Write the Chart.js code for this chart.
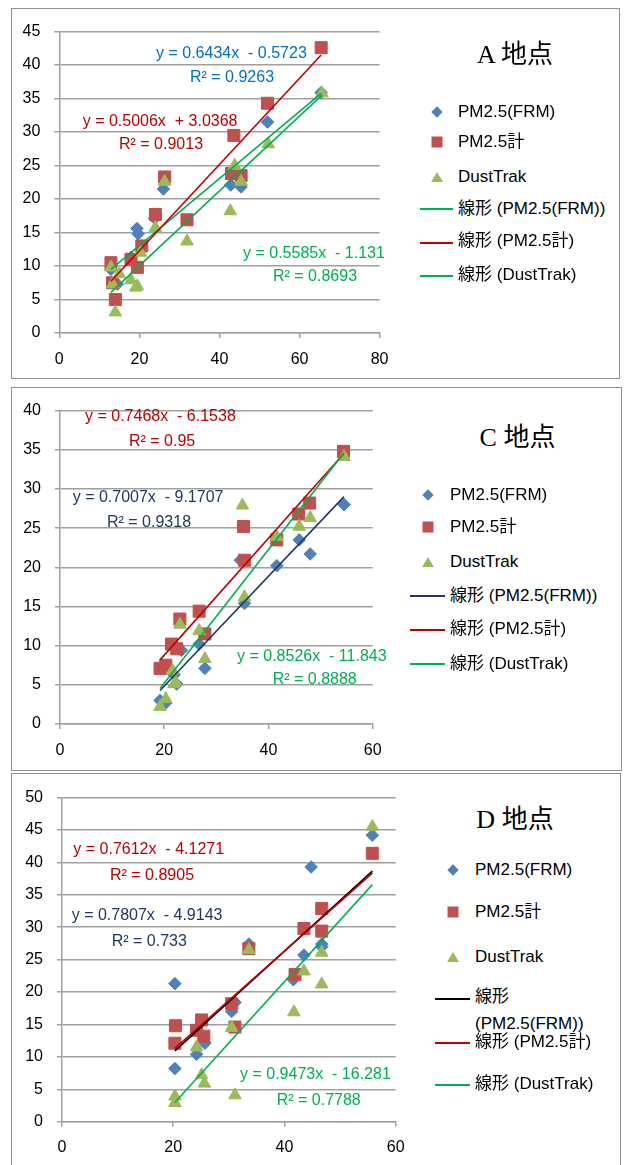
<!DOCTYPE html>
<html>
<head>
<meta charset="utf-8">
<script src="https://cdn.jsdelivr.net/npm/chart.js@4.4.1/dist/chart.umd.min.js"></script>
<style>
  body {
    margin: 0;
    width: 624px;
    height: 1165px;
    position: relative;
    overflow: hidden;
    background: #fff;
    font-family: "Liberation Sans", "Noto Sans CJK JP", sans-serif;
  }
  .panel { position: absolute; border: 1px solid #8f8f8f; box-sizing: border-box; }
  canvas { position: absolute; left: 0; }
  .t { position: absolute; white-space: pre; line-height: 1.2; transform: translateY(-50%); }
  .eq { font-size: 16px; }
  .lg { font-size: 17px; color: #000; }
  .title { font-family: "Liberation Serif", "Noto Sans CJK JP", serif; font-size: 26px; transform: translate(-50%, -50%); }
  .sym { position: absolute; transform: translate(-50%, -50%); }
  .lgline { position: absolute; height: 2px; }
</style>
</head>
<body>
<div class="panel" style="left:11px;top:8px;width:609px;height:371px"></div>
<div class="panel" style="left:11px;top:387px;width:611px;height:384px"></div>
<div class="panel" style="left:11px;top:773px;width:610px;height:400px"></div>
<canvas id="chartA" width="400" height="370" style="top:8px"></canvas>
<canvas id="chartC" width="400" height="384" style="top:387px"></canvas>
<canvas id="chartD" width="420" height="391" style="top:774px"></canvas>
<div id="labels"></div>
<script>
const seriesNames = ["PM2.5(FRM)", "PM2.5計", "DustTrak"];

// A 地点
const aFrmX = [12.9, 14.5, 17.9, 19.4, 19.7, 23.8, 26.0, 42.8, 45.4, 52.0, 65.4];
const aFrmY = [9.5, 7.3, 11.3, 15.6, 14.8, 17.1, 21.5, 22.1, 21.8, 31.5, 35.9];
const aPmX = [12.9, 13.3, 14.0, 17.9, 19.5, 20.6, 24.0, 26.3, 31.9, 43.0, 43.6, 45.4, 52.0, 65.4];
const aPmY = [10.5, 7.5, 5.0, 11.0, 9.8, 13.0, 17.7, 23.3, 16.9, 23.8, 29.5, 23.5, 34.3, 42.6];
const aDustX = [12.9, 13.3, 14.0, 15.0, 17.9, 19.1, 19.5, 20.3, 24.0, 26.3, 31.9, 42.7, 43.8, 45.4, 52.2, 65.6];
const aDustY = [9.8, 7.3, 3.1, 8.8, 7.9, 6.8, 7.0, 12.0, 15.7, 22.6, 13.7, 18.2, 25.0, 22.6, 28.2, 35.8];
const aSlope = [0.5006, 0.6434, 0.5585];
const aIntercept = [3.0368, -0.5723, -1.131];
const aR2 = [0.9013, 0.9263, 0.8693];

// C 地点
const cFrmX = [19.2, 20.3, 21.9, 22.4, 23.3, 26.7, 27.8, 34.6, 35.4, 41.6, 45.9, 48.0, 54.5];
const cFrmY = [3.0, 2.7, 6.3, 5.1, 9.4, 10.2, 7.1, 20.9, 15.4, 20.2, 23.5, 21.7, 28.0];
const cPmX = [19.2, 20.3, 21.4, 22.4, 23.0, 26.7, 27.8, 35.2, 35.4, 41.6, 45.8, 47.9, 54.4];
const cPmY = [7.1, 7.5, 10.2, 9.6, 13.4, 14.4, 11.5, 25.2, 20.9, 23.5, 26.8, 28.2, 34.8];
const cDustX = [19.2, 20.3, 21.6, 21.9, 22.2, 23.0, 26.7, 27.8, 35.0, 35.4, 41.6, 45.9, 48.0, 54.5];
const cDustY = [2.2, 3.2, 6.8, 5.1, 5.3, 12.7, 11.9, 8.3, 27.9, 16.2, 23.9, 25.2, 26.3, 34.1];
const cSlope = [0.7007, 0.7468, 0.8526];
const cIntercept = [-9.1707, -6.1538, -11.843];
const cR2 = [0.9318, 0.95, 0.8888];

// D 地点
const dFrmX = [20.3, 20.3, 24.2, 25.7, 30.5, 31.1, 33.6, 41.6, 43.5, 44.8, 46.7, 46.7, 55.8];
const dFrmY = [21.3, 8.2, 10.4, 12.1, 17.0, 18.4, 27.4, 21.9, 25.7, 39.3, 27.4, 27.0, 44.2];
const dPmX = [20.3, 20.4, 24.2, 25.1, 25.5, 30.5, 31.1, 33.6, 41.9, 43.5, 46.7, 46.7, 55.8];
const dPmY = [12.1, 14.8, 14.1, 15.7, 13.2, 18.2, 14.6, 26.7, 22.7, 29.8, 29.4, 32.9, 41.4];
const dDustX = [20.3, 20.3, 24.2, 25.1, 25.6, 30.5, 31.1, 33.6, 41.7, 43.5, 46.7, 46.7, 55.8];
const dDustY = [2.9, 3.9, 11.5, 7.2, 5.9, 14.5, 4.1, 26.5, 16.9, 23.2, 21.2, 26.1, 45.5];
const dSlope = [0.7807, 0.7612, 0.9473];
const dIntercept = [-4.9143, -4.1271, -16.281];
const dR2 = [0.733, 0.8905, 0.7788];

const markerColors = ["#4F81BD", "#C0504D", "#9BBB59"];
const markerStyles = ["rectRot", "rect", "triangle"];
const markerRadius = [6.3, 8.5, 7.3];
const gridColor = "#a0a0a0";
const tickFont = { family: "Liberation Sans", size: 16 };

const panels = [
  {
    id: "chartA", title: "A 地点", canvasTop: 8,
    area: { left: 59.3, right: 383.3, top: 28, bottom: 333 }, xMax: 80, yMax: 45,
    xs: [aFrmX, aPmX, aDustX], ys: [aFrmY, aPmY, aDustY],
    slope: aSlope, intercept: aIntercept, r2: aR2,
    lineColors: ["#00B050", "#C00000", "#00B050"],
    eqColors: ["#C00000", "#0070C0", "#00B050"],
    eqPos: [[82.7, 120.5, 119, 144], [156, 52.5, 190, 77.3], [243, 252.5, 273, 276]],
    titlePos: [515, 55],
    legend: { sym: 437.3, line: [420, 453.3], text: 458, ys: [111.5, 142, 177, 208.5, 241, 274.5], lineYs: [209.3, 242.7, 276] },
  },
  {
    id: "chartC", title: "C 地点", canvasTop: 387,
    area: { left: 60, right: 372.7, top: 407.7, bottom: 724 }, xMax: 60, yMax: 40,
    xs: [cFrmX, cPmX, cDustX], ys: [cFrmY, cPmY, cDustY],
    slope: cSlope, intercept: cIntercept, r2: cR2,
    lineColors: ["#1F3864", "#C00000", "#00B050"],
    eqColors: ["#1F3864", "#C00000", "#00B050"],
    eqPos: [[72.7, 497, 107, 521.7], [85, 416, 129, 441], [237, 655.5, 272.7, 679]],
    titlePos: [517.5, 438.3],
    legend: { sym: 428.3, line: [410, 445], text: 450, ys: [495, 527, 562, 595.7, 629.3, 664], lineYs: [595.7, 630, 664.3] },
  },
  {
    id: "chartD", title: "D 地点", canvasTop: 774,
    area: { left: 62, right: 395.7, top: 796, bottom: 1121.7 }, xMax: 60, yMax: 50,
    xs: [dFrmX, dPmX, dDustX], ys: [dFrmY, dPmY, dDustY],
    slope: dSlope, intercept: dIntercept, r2: dR2,
    lineColors: ["#000000", "#C00000", "#00B050"],
    eqColors: ["#1F3864", "#C00000", "#00B050"],
    eqPos: [[71.7, 914.5, 111.7, 940.7], [73.3, 848.5, 110, 875], [240, 1073.5, 276.7, 1100]],
    titlePos: [515, 820],
    legend: { sym: 452.7, line: [435, 470], text: 475, ys: [870, 912, 956.7, 997.3, 1042.3, 1083.7], lineYs: [998.7, 1042.7, 1085], wrapFirst: 1024 },
  },
];

function points(xs, ys) {
  return xs.map((x, i) => ({ x: x, y: ys[i] }));
}

function trendLine(xs, a, b) {
  const lo = Math.min(...xs);
  const hi = Math.max(...xs);
  return [{ x: lo, y: a * lo + b }, { x: hi, y: a * hi + b }];
}

function equation(a, b) {
  return "y = " + a + "x  " + (b < 0 ? "-" : "+") + " " + Math.abs(b);
}

function drawPanel(p) {
  const canvas = document.getElementById(p.id);
  const h = canvas.height;
  const w = canvas.width;
  const datasets = [];

  // trend lines on top of markers
  for (let i = 0; i < 3; i++) {
    datasets.push({
      label: "線形 (" + seriesNames[i] + ")",
      data: trendLine(p.xs[i], p.slope[i], p.intercept[i]),
      showLine: true,
      pointRadius: 0,
      borderColor: p.lineColors[i],
      borderWidth: 1.6,
      order: 3 - i,
    });
  }
  for (let i = 0; i < 3; i++) {
    datasets.push({
      label: seriesNames[i],
      data: points(p.xs[i], p.ys[i]),
      pointStyle: markerStyles[i],
      pointRadius: markerRadius[i],
      backgroundColor: markerColors[i],
      borderColor: markerColors[i],
      borderWidth: 1,
      order: 6 - i,
    });
  }

  new Chart(canvas, {
    type: "scatter",
    data: { datasets: datasets },
    options: {
      responsive: false,
      animation: false,
      devicePixelRatio: 1,
      layout: { padding: { left: 0, right: w - p.area.right, top: p.area.top - p.canvasTop, bottom: 0 } },
      plugins: { legend: { display: false }, tooltip: { enabled: false } },
      scales: {
        x: {
          type: "linear", min: 0, max: p.xMax,
          ticks: { stepSize: 20, padding: 11.5, font: tickFont, color: "#000" },
          grid: { drawOnChartArea: false, tickLength: 5, color: gridColor, lineWidth: 1.5 },
          border: { color: gridColor, width: 1.5 },
          afterFit: (s) => { s.height = h - (p.area.bottom - p.canvasTop); },
        },
        y: {
          type: "linear", min: 0, max: p.yMax,
          ticks: { stepSize: 5, padding: 14, font: tickFont, color: "#000" },
          grid: { tickLength: 5, color: gridColor, lineWidth: 1.5 },
          border: { color: gridColor, width: 1.5 },
          afterFit: (s) => { s.width = p.area.left; },
        },
      },
    },
  });
}

function addText(cls, text, left, y, color) {
  const el = document.createElement("div");
  el.className = "t " + cls;
  el.textContent = text;
  el.style.left = left + "px";
  el.style.top = y + "px";
  if (color) el.style.color = color;
  document.getElementById("labels").appendChild(el);
  return el;
}

function addSym(html, x, y) {
  const el = document.createElement("div");
  el.className = "sym";
  el.style.left = x + "px";
  el.style.top = y + "px";
  el.innerHTML = html;
  document.getElementById("labels").appendChild(el);
}

function drawLabels(p) {
  for (let i = 0; i < 3; i++) {
    const e = p.eqPos[i];
    addText("eq", equation(p.slope[i], p.intercept[i]), e[0], e[1], p.eqColors[i]);
    addText("eq", "R² = " + p.r2[i], e[2], e[3], p.eqColors[i]);
  }
  addText("title", p.title, p.titlePos[0], p.titlePos[1]);

  const L = p.legend;
  addSym('<div style="width:8px;height:8px;background:' + markerColors[0] + ';transform:rotate(45deg)"></div>', L.sym, L.ys[0]);
  addSym('<div style="width:11px;height:11px;background:' + markerColors[1] + '"></div>', L.sym, L.ys[1]);
  addSym('<div style="width:0;height:0;border-left:6px solid transparent;border-right:6px solid transparent;border-bottom:10px solid ' + markerColors[2] + '"></div>', L.sym, L.ys[2]);
  for (let i = 0; i < 3; i++) {
    addText("lg", seriesNames[i], L.text, L.ys[i]);
    const ln = document.createElement("div");
    ln.className = "lgline";
    ln.style.background = p.lineColors[i];
    ln.style.left = L.line[0] + "px";
    ln.style.width = (L.line[1] - L.line[0]) + "px";
    ln.style.top = Math.round(L.lineYs[i] - 1) + "px";
    document.getElementById("labels").appendChild(ln);
    if (i === 0 && L.wrapFirst) {
      addText("lg", "線形", L.text, L.ys[3]);
      addText("lg", "(" + seriesNames[0] + ")", L.text, L.wrapFirst);
    } else {
      addText("lg", "線形 (" + seriesNames[i] + ")", L.text, L.ys[3 + i]);
    }
  }
}

panels.forEach((p) => {
  drawPanel(p);
  drawLabels(p);
});
</script>
</body>
</html>
